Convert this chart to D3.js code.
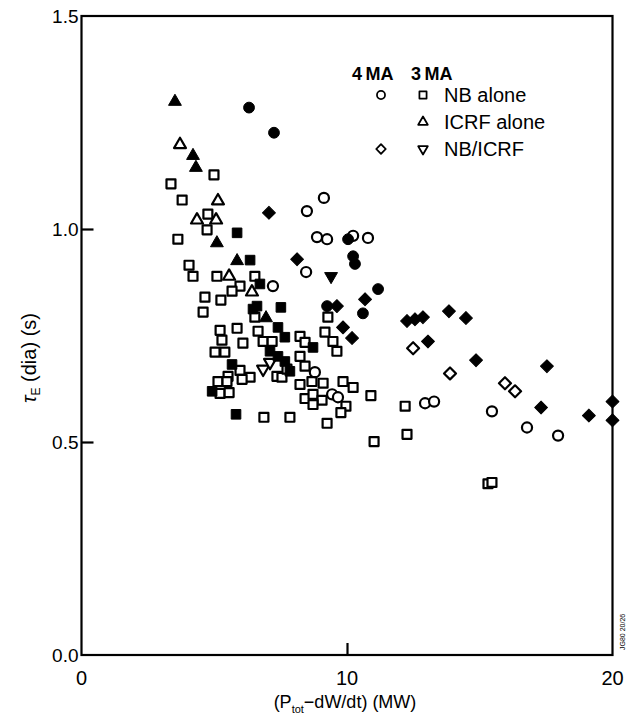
<!DOCTYPE html>
<html>
<head>
<meta charset="utf-8">
<script src="https://cdnjs.cloudflare.com/ajax/libs/d3/7.8.5/d3.min.js"></script>
<style>
  body { margin: 0; background: #fff; }
  svg { display: block; font-family: "Liberation Sans", Arial, sans-serif; }
</style>
</head>
<body>
<div id="chart"></div>
<script>
// tau_E(dia) vs (P_tot - dW/dt)
var xTicks = [0, 10, 20],
    yTicks = [0.0, 0.5, 1.0, 1.5];

// 3 MA, NB alone (open squares)
var nb3 = [
    [4.99, 1.127], [3.37, 1.106], [3.79, 1.068], [4.76, 1.035], [4.73, 0.998], [3.63, 0.976],
    [4.05, 0.915], [4.20, 0.889], [5.10, 0.889], [6.53, 0.889], [5.97, 0.866], [5.67, 0.854],
    [4.65, 0.840], [5.25, 0.833], [4.58, 0.805], [6.53, 0.793], [5.22, 0.762], [5.86, 0.767],
    [5.29, 0.739], [6.08, 0.732], [6.65, 0.760], [6.84, 0.736], [7.18, 0.736], [8.23, 0.748],
    [8.42, 0.734], [9.17, 0.758], [9.47, 0.736], [9.28, 0.793], [9.62, 0.713], [5.03, 0.711],
    [5.40, 0.711], [5.97, 0.668], [6.35, 0.652], [6.05, 0.647], [5.52, 0.654], [5.14, 0.642],
    [5.48, 0.642], [5.22, 0.614], [5.56, 0.616], [7.36, 0.654], [7.55, 0.652], [7.74, 0.671],
    [8.23, 0.701], [8.42, 0.678], [8.23, 0.635], [8.68, 0.642], [9.10, 0.638], [9.85, 0.642],
    [10.23, 0.628], [10.90, 0.609], [8.42, 0.602], [8.72, 0.612], [9.06, 0.598], [8.72, 0.588],
    [9.96, 0.584], [9.77, 0.569], [6.87, 0.558], [7.85, 0.558], [9.25, 0.544], [11.02, 0.501],
    [12.19, 0.584], [12.26, 0.518], [15.31, 0.402], [15.46, 0.405]
];
// 3 MA, filled squares
var nb3f = [
    [5.86, 0.991], [6.35, 0.927], [6.61, 0.819], [7.51, 0.816], [7.40, 0.769], [7.66, 0.746],
    [5.67, 0.682], [4.92, 0.619], [5.82, 0.565], [6.72, 0.871], [7.10, 0.713], [7.40, 0.701],
    [7.66, 0.689], [7.85, 0.666], [6.46, 0.812], [8.72, 0.722]
];
// 3 MA, ICRF alone
var icrf3 = [
    [3.71, 1.198], [5.14, 1.066], [4.35, 1.021], [5.07, 1.021], [5.56, 0.889], [6.42, 0.852]
];
var icrf3f = [
    [3.52, 1.299], [4.20, 1.172], [4.31, 1.144], [5.10, 0.967], [5.86, 0.925], [6.95, 0.791]
];
// 3 MA, NB/ICRF
var both3 = [[6.84, 0.671], [7.10, 0.687]];
var both3f = [[9.40, 0.889]];
// 4 MA, NB alone
var nb4 = [
    [9.13, 1.073], [8.49, 1.042], [8.87, 0.981], [9.25, 0.976], [10.23, 0.984], [10.79, 0.979],
    [8.46, 0.899], [7.21, 0.866], [8.79, 0.664], [9.44, 0.612], [9.66, 0.605], [12.94, 0.591],
    [13.28, 0.595], [15.46, 0.572], [16.78, 0.534], [17.95, 0.515]
];
var nb4f = [
    [6.31, 1.285], [7.25, 1.226], [10.04, 0.976], [10.23, 0.936], [10.30, 0.918], [11.17, 0.859],
    [10.60, 0.802], [9.25, 0.819]
];
// 4 MA, NB/ICRF
var both4 = [[12.49, 0.720], [13.88, 0.661], [15.95, 0.638], [16.33, 0.619]];
var both4f = [
    [7.06, 1.038], [8.12, 0.929], [10.68, 0.835], [9.62, 0.819], [9.85, 0.769], [10.19, 0.744],
    [12.26, 0.784], [12.56, 0.788], [12.86, 0.793], [13.84, 0.807], [14.48, 0.791], [13.05, 0.736],
    [14.86, 0.692], [17.53, 0.678], [17.31, 0.581], [19.11, 0.562], [20.0, 0.595], [20.0, 0.551]
];

(function() {
    var W = 629, H = 718,
        mLeft = 81.5, mRight = 612.5, mTop = 16, mBottom = 655;

    var svg = d3.select('#chart').append('svg')
            .attr('width', W)
            .attr('height', H);

    var x = d3.scaleLinear().domain([0, 20]).range([mLeft, mRight]),
        y = d3.scaleLinear().domain([0, 1.5]).range([mBottom, mTop]);

    var shapes = {
            square: {type: d3.symbolSquare, size: 80, rot: 0},
            circle: {type: d3.symbolCircle, size: 80, rot: 0},
            tri: {type: d3.symbolTriangle, size: 62, rot: 0},
            down: {type: d3.symbolTriangle, size: 62, rot: 180},
            diamond: {type: d3.symbolSquare, size: 72, rot: 45}
        };

    var series = [
            {data: nb3, shape: 'square', filled: false},
            {data: icrf3, shape: 'tri', filled: false},
            {data: both3, shape: 'down', filled: false},
            {data: nb4, shape: 'circle', filled: false},
            {data: both4, shape: 'diamond', filled: false},
            {data: nb3f, shape: 'square', filled: true},
            {data: icrf3f, shape: 'tri', filled: true},
            {data: both3f, shape: 'down', filled: true},
            {data: nb4f, shape: 'circle', filled: true},
            {data: both4f, shape: 'diamond', filled: true}
        ];

    function marker(sel, s, filled) {
        var sh = shapes[s];
        sel.attr('d', d3.symbol().type(sh.type).size(filled ? sh.size * 1.15 : sh.size))
            .attr('fill', filled ? '#000' : '#fff')
            .attr('stroke', '#000')
            .attr('stroke-width', filled ? 1 : 2.2)
            .attr('stroke-linejoin', 'round');
    }

    var marks = svg.append('g');
    series.forEach(function(s) {
        marks.selectAll(null)
            .data(s.data)
            .enter()
            .append('path')
            .call(marker, s.shape, s.filled)
            .attr('transform', function(d) {
                return 'translate(' + x(d[0]) + ',' + y(d[1]) + ') rotate(' + shapes[s.shape].rot + ')';
            });
    });

    // frame
    svg.append('rect')
        .attr('x', mLeft).attr('y', mTop)
        .attr('width', mRight - mLeft).attr('height', mBottom - mTop)
        .attr('fill', 'none').attr('stroke', '#000').attr('stroke-width', 2.2);

    // axes, ticks pointing inward
    var yAxis = d3.axisRight(y).tickValues([0.5, 1.0]).tickSize(12).tickFormat(''),
        xAxis = d3.axisTop(x).tickValues([10]).tickSize(12).tickFormat('');

    svg.append('g').attr('transform', 'translate(' + mLeft + ',0)').call(yAxis)
        .call(function(g) { g.select('.domain').remove(); })
        .selectAll('line').attr('stroke-width', 2.2);
    svg.append('g').attr('transform', 'translate(0,' + mBottom + ')').call(xAxis)
        .call(function(g) { g.select('.domain').remove(); })
        .selectAll('line').attr('stroke-width', 2.2);

    svg.append('g').selectAll('text')
        .data(yTicks)
        .enter()
        .append('text')
        .attr('x', mLeft - 3)
        .attr('y', function(d) { return y(d); })
        .attr('dy', '0.35em')
        .attr('text-anchor', 'end')
        .style('font-size', '19px')
        .text(function(d) { return d.toFixed(1); });

    svg.append('g').selectAll('text')
        .data(xTicks)
        .enter()
        .append('text')
        .attr('x', function(d) { return x(d); })
        .attr('y', mBottom + 30)
        .attr('text-anchor', 'middle')
        .style('font-size', '20px')
        .text(function(d) { return d; });

    // axis titles
    var xt = svg.append('text')
        .attr('x', 345).attr('y', 708)
        .attr('text-anchor', 'middle')
        .style('font-size', '18px');
    xt.append('tspan').text('(P');
    xt.append('tspan').attr('dy', 5).style('font-size', '11px').text('tot');
    xt.append('tspan').attr('dy', -5).text('\u2212dW/dt) (MW)');

    var yt = svg.append('text')
        .attr('transform', 'translate(36,358) rotate(-90)')
        .attr('text-anchor', 'middle')
        .style('font-size', '20px');
    yt.append('tspan').style('font-style', 'italic').text('\u03c4');
    yt.append('tspan').attr('dy', 4).style('font-size', '12px').text('E');
    yt.append('tspan').attr('dy', -4).text(' (dia) (s)');

    // legend
    var lg = svg.append('g');
    lg.append('text').attr('x', 352).attr('y', 80)
        .style('font-size', '18px').style('font-weight', 'bold')
        .text('4\u2009MA');
    lg.append('text').attr('x', 411).attr('y', 80)
        .style('font-size', '18px').style('font-weight', 'bold')
        .text('3\u2009MA');

    var rows = [
            {label: 'NB alone', a: 'circle', b: 'square'},
            {label: 'ICRF alone', a: null, b: 'tri'},
            {label: 'NB/ICRF', a: 'diamond', b: 'down'}
        ];
    rows.forEach(function(r, i) {
        var yy = 95 + i * 27;
        [[r.a, 381], [r.b, 423]].forEach(function(m) {
            if (!m[0]) return;
            lg.append('path').call(marker, m[0], false)
                .attr('transform', 'translate(' + m[1] + ',' + yy + ') rotate(' + shapes[m[0]].rot + ') scale(0.8)');
        });
        lg.append('text').attr('x', 444).attr('y', yy).attr('dy', '0.35em')
            .style('font-size', '20px').text(r.label);
    });

    // figure code at the lower right
    svg.append('text')
        .attr('transform', 'translate(625,650) rotate(-90)')
        .style('font-size', '7px')
        .text('JG80 20/26');
})();
</script>
</body>
</html>
